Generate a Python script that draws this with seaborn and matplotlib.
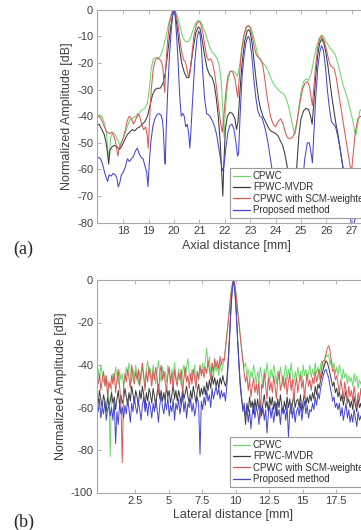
import numpy as np
import seaborn as sns
import matplotlib.pyplot as plt
from matplotlib.lines import Line2D

sns.set_style("white")
plt.rcParams['font.family'] = ['Liberation Sans', 'DejaVu Sans']
plt.rcParams['axes.unicode_minus'] = False

# ---- (a) axial profiles: (axial distance [mm], normalized amplitude [dB]) ----
cpwc_axial = [
    (16.95, -40.5), (17.05, -39.5), (17.15, -40), (17.25, -42.5), (17.33, -46), (17.40, -54),
    (17.44, -55), (17.50, -48), (17.58, -46), (17.68, -47), (17.78, -49), (17.86, -51),
    (17.95, -49.5), (18.05, -47), (18.15, -44), (18.25, -41.5), (18.35, -41), (18.45, -40),
    (18.55, -40.5), (18.65, -38.5), (18.75, -37.5), (18.85, -37), (18.95, -35), (19.02, -30),
    (19.10, -22), (19.18, -18.5), (19.28, -18), (19.38, -18.5), (19.48, -17), (19.58, -14),
    (19.68, -10), (19.78, -5.5), (19.88, -2), (19.96, -0.3), (20.00, 0), (20.06, -0.8),
    (20.15, -3), (20.25, -7), (20.35, -10.5), (20.45, -12), (20.55, -12), (20.65, -10.5),
    (20.75, -7.5), (20.85, -5), (20.95, -4), (21.02, -4.2), (21.10, -5.5), (21.20, -8),
    (21.30, -11), (21.40, -14), (21.50, -16), (21.60, -17), (21.70, -18.5), (21.78, -21),
    (21.85, -26), (21.92, -38), (21.97, -48), (22.02, -38), (22.10, -28), (22.20, -23.5),
    (22.30, -23), (22.40, -23.5), (22.50, -25), (22.58, -21), (22.68, -14), (22.78, -9),
    (22.88, -6.2), (22.95, -6), (23.02, -6.5), (23.10, -9), (23.20, -13), (23.30, -17),
    (23.40, -19), (23.50, -20), (23.60, -21), (23.70, -23), (23.80, -25.5), (23.90, -27.5),
    (24.00, -29), (24.10, -30), (24.20, -31), (24.30, -31.5), (24.40, -33), (24.50, -36),
    (24.60, -40), (24.70, -45), (24.76, -47), (24.82, -44), (24.90, -38), (25.00, -31),
    (25.10, -27), (25.20, -26), (25.30, -26.5), (25.40, -24), (25.50, -19), (25.60, -14.5),
    (25.70, -11), (25.80, -9.5), (25.88, -10), (25.96, -11.5), (26.05, -13), (26.15, -14.5),
    (26.25, -15.5), (26.35, -17), (26.45, -20), (26.55, -24), (26.65, -28), (26.75, -31),
    (26.85, -34), (26.95, -38), (27.05, -42), (27.12, -46), (27.17, -47), (27.24, -43),
    (27.32, -38), (27.42, -37), (27.55, -37), (27.70, -38), (27.85, -39), (28.00, -39.5),
]
mvdr_axial = [
    (16.95, -43.5), (17.05, -43), (17.15, -45), (17.25, -47), (17.32, -50), (17.38, -54),
    (17.42, -58), (17.47, -53), (17.55, -51.5), (17.65, -51), (17.75, -51.5), (17.85, -52.5),
    (17.95, -51), (18.05, -49), (18.15, -47), (18.25, -46), (18.35, -45), (18.45, -45.5),
    (18.55, -44.5), (18.65, -44), (18.75, -43), (18.85, -42), (18.95, -40), (19.05, -36),
    (19.15, -32), (19.25, -30), (19.35, -29.5), (19.45, -29.5), (19.55, -28), (19.65, -24),
    (19.75, -16), (19.85, -8), (19.93, -2.5), (20.00, 0), (20.06, -2.5), (20.14, -8),
    (20.22, -15), (20.30, -20), (20.40, -23.5), (20.50, -25.5), (20.58, -25.5), (20.66, -21),
    (20.76, -14), (20.86, -8.5), (20.95, -6.5), (21.02, -7), (21.10, -11), (21.20, -17),
    (21.30, -22), (21.40, -24.5), (21.50, -25.5), (21.58, -28), (21.66, -33), (21.74, -40),
    (21.82, -50), (21.88, -62), (21.92, -70), (21.96, -58), (22.02, -45), (22.10, -40),
    (22.20, -38.5), (22.30, -39), (22.40, -41), (22.46, -45), (22.52, -42), (22.60, -30),
    (22.68, -20), (22.78, -12), (22.88, -8), (22.94, -7.5), (23.00, -8.5), (23.08, -13),
    (23.16, -20), (23.24, -27), (23.32, -33), (23.40, -37), (23.50, -40), (23.60, -42),
    (23.70, -44), (23.80, -45.5), (23.90, -46), (24.00, -46.5), (24.10, -47.5), (24.20, -49.5),
    (24.28, -51), (24.36, -54), (24.44, -58), (24.52, -63), (24.60, -70), (24.68, -75),
    (24.76, -70), (24.84, -58), (24.92, -47), (25.00, -41), (25.10, -38), (25.20, -37),
    (25.30, -37.5), (25.38, -40), (25.44, -43), (25.50, -36), (25.58, -25), (25.66, -17),
    (25.74, -12.5), (25.82, -11), (25.90, -12.5), (25.98, -16), (26.06, -21), (26.14, -27),
    (26.22, -33), (26.30, -38), (26.38, -43), (26.46, -47), (26.54, -52), (26.62, -57),
    (26.70, -62), (26.80, -68), (26.90, -72), (27.00, -75), (27.20, -72), (27.40, -70),
    (27.60, -68), (28.00, -68),
]
scm_axial = [
    (16.95, -40.5), (17.05, -40), (17.15, -41.5), (17.25, -44), (17.35, -46), (17.45, -46.5),
    (17.55, -46), (17.65, -48), (17.72, -51), (17.78, -55), (17.84, -52), (17.92, -50),
    (18.00, -48), (18.08, -45), (18.16, -41.5), (18.24, -40), (18.32, -41), (18.40, -43),
    (18.48, -41.5), (18.56, -39), (18.64, -40), (18.72, -43), (18.80, -45), (18.88, -44),
    (18.94, -47), (18.98, -52), (19.03, -42), (19.10, -30), (19.18, -22), (19.26, -19),
    (19.34, -18), (19.42, -18.5), (19.50, -19.5), (19.56, -22), (19.60, -28), (19.63, -31),
    (19.67, -22), (19.74, -12), (19.82, -5), (19.92, -1), (20.00, 0), (20.08, -2),
    (20.16, -6), (20.24, -12), (20.32, -17), (20.38, -19), (20.44, -19.5), (20.50, -22),
    (20.56, -25), (20.62, -24), (20.70, -17), (20.78, -10), (20.88, -5.5), (20.96, -4.5),
    (21.04, -5), (21.12, -8), (21.20, -13), (21.28, -17.5), (21.36, -19), (21.44, -18.5),
    (21.52, -20), (21.60, -24), (21.68, -30), (21.76, -37), (21.84, -43), (21.90, -46),
    (21.96, -40), (22.04, -31), (22.12, -25), (22.22, -23), (22.32, -23.5), (22.40, -26),
    (22.46, -30), (22.51, -33), (22.56, -27), (22.64, -17), (22.74, -10), (22.84, -6.5),
    (22.93, -6), (23.00, -7), (23.08, -10), (23.16, -14), (23.24, -17), (23.32, -18),
    (23.40, -18.5), (23.48, -20), (23.56, -25), (23.64, -31), (23.72, -36), (23.80, -40),
    (23.90, -43), (24.00, -44), (24.10, -42), (24.20, -41), (24.30, -43), (24.38, -46),
    (24.46, -48), (24.56, -48.5), (24.66, -48), (24.76, -46), (24.86, -41), (24.96, -35),
    (25.06, -30), (25.16, -27.5), (25.26, -27), (25.34, -29), (25.40, -33), (25.45, -36),
    (25.50, -30), (25.58, -21), (25.66, -14), (25.74, -11), (25.82, -10), (25.90, -11.5),
    (25.98, -14), (26.06, -17.5), (26.14, -20.5), (26.22, -21.5), (26.30, -22), (26.38, -25),
    (26.46, -30), (26.56, -36), (26.66, -42), (26.76, -48), (26.86, -54), (26.94, -59),
    (27.00, -60), (27.06, -54), (27.14, -46), (27.24, -41), (27.34, -40), (27.46, -41),
    (27.60, -42), (27.80, -42), (28.00, -43),
]
proposed_axial = [
    (16.95, -55), (17.02, -55.5), (17.10, -56), (17.18, -58), (17.26, -61), (17.32, -63),
    (17.38, -64.5), (17.44, -62), (17.52, -62.5), (17.60, -61.5), (17.68, -62), (17.74, -63),
    (17.80, -66.5), (17.86, -65), (17.92, -62), (18.00, -61), (18.08, -59), (18.16, -56),
    (18.24, -57), (18.32, -56), (18.40, -55), (18.48, -53), (18.55, -52), (18.62, -54),
    (18.70, -55.5), (18.78, -56), (18.86, -59), (18.92, -61), (18.97, -66.5), (19.02, -58),
    (19.08, -50), (19.16, -44), (19.24, -41), (19.32, -39.5), (19.40, -39), (19.48, -39.5),
    (19.54, -41.5), (19.58, -46), (19.62, -55), (19.65, -58), (19.69, -45), (19.75, -30),
    (19.82, -17), (19.90, -6), (19.96, -1), (20.00, 0), (20.04, -2), (20.10, -10),
    (20.16, -20), (20.22, -32), (20.28, -40), (20.34, -39), (20.40, -40), (20.46, -44),
    (20.52, -43), (20.58, -47), (20.62, -52), (20.66, -46), (20.74, -32), (20.82, -19),
    (20.90, -11), (20.97, -8), (21.02, -9), (21.08, -15), (21.14, -25), (21.20, -33),
    (21.28, -39), (21.36, -39.5), (21.44, -40.5), (21.52, -42), (21.60, -44), (21.68, -47),
    (21.76, -52), (21.84, -57), (21.90, -60.5), (21.96, -59), (22.04, -52), (22.12, -46),
    (22.20, -43.5), (22.28, -43), (22.36, -45), (22.44, -50), (22.50, -55), (22.54, -54),
    (22.60, -40), (22.68, -25), (22.76, -17), (22.84, -12), (22.92, -10), (22.98, -11),
    (23.06, -17), (23.14, -26), (23.22, -33), (23.30, -38), (23.38, -40), (23.46, -40.5),
    (23.54, -43), (23.62, -46), (23.70, -50), (23.78, -55), (23.86, -60), (23.94, -66),
    (24.02, -72), (24.10, -74), (24.40, -75), (24.70, -75), (24.95, -72), (25.05, -66),
    (25.15, -56), (25.25, -50), (25.33, -50), (25.40, -54), (25.45, -57.5), (25.50, -48),
    (25.58, -33), (25.66, -22), (25.74, -16), (25.81, -13.5), (25.88, -15), (25.96, -21),
    (26.04, -30), (26.12, -37), (26.20, -42), (26.28, -43), (26.36, -44), (26.44, -47),
    (26.52, -51), (26.60, -56), (26.68, -61), (26.78, -68), (26.88, -75), (26.98, -80),
    (27.05, -82), (27.12, -79), (27.30, -75), (27.60, -74), (28.00, -74),
]

# ---- (b) lateral profiles, sampled every 0.1 mm from -0.35 mm ----
lateral_start, lateral_step = -0.35, 0.1
cpwc_lateral = [
    -45, -42, -47, -40, -44, -48, -45, -50, -47, -55,
    -83, -50, -44, -47, -41, -45, -49, -43, -47, -44,
    -50, -46, -41, -45, -39, -44, -48, -42, -46, -40,
    -45, -49, -43, -47, -41, -44, -50, -42, -38, -45,
    -42, -47, -40, -45, -49, -43, -38, -44, -48, -41,
    -46, -43, -48, -40, -44, -47, -42, -46, -39, -45,
    -48, -42, -45, -50, -43, -40, -46, -41, -37, -44,
    -47, -42, -45, -40, -48, -43, -46, -41, -44, -39,
    -43, -38, -32, -41, -36, -44, -40, -46, -39, -43,
    -40, -45, -39, -43, -41, -37.5, -32, -26, -19.5, -13,
    -7, -2.5, 0, -2.5, -7, -13, -19.5, -26, -32, -37.5,
    -41, -39, -45, -42, -48, -43, -46, -40, -44, -49,
    -43, -47, -41, -45, -50, -42, -46, -39, -44, -48,
    -42, -46, -40, -44, -49, -43, -47, -41, -45, -50,
    -44, -40, -47, -42, -46, -39, -45, -49, -43, -47,
    -41, -46, -43, -48, -40, -45, -42, -47, -44, -40,
    -46, -42, -45, -39, -44, -41, -47, -40, -38, -42,
    -37, -35, -36, -35, -40, -37, -42, -39, -44, -41,
    -45, -40, -43, -47, -42, -46, -44, -49, -45, -48,
    -46, -50, -44, -48, -45, -51, -47, -49, -46, -50,
]
mvdr_lateral = [
    -55, -58, -52, -56, -60, -54, -57, -62, -55, -59,
    -57, -53, -58, -55, -61, -56, -52, -59, -54, -58,
    -56, -51, -55, -59, -53, -57, -50, -54, -58, -52,
    -55, -59, -52, -56, -50, -54, -60, -53, -57, -51,
    -54, -58, -51, -55, -60, -53, -49, -56, -52, -57,
    -53, -57, -50, -55, -52, -58, -54, -49, -56, -52,
    -57, -52, -55, -59, -51, -56, -53, -50, -55, -58,
    -52, -56, -50, -54, -58, -52, -49, -55, -51, -54,
    -50, -54, -48, -52, -47, -51, -45, -49, -46, -50,
    -47, -51, -46, -49, -45, -48, -50, -47, -38, -27,
    -14, -4.5, 0, -4.5, -14, -27, -38, -48, -55, -60,
    -60, -68, -58, -62, -55, -60, -57, -63, -56, -61,
    -56, -61, -57, -63, -58, -54, -60, -57, -62, -55,
    -59, -55, -61, -57, -64, -56, -60, -54, -59, -62,
    -57, -61, -55, -60, -56, -63, -58, -54, -60, -57,
    -56, -60, -54, -62, -57, -53, -59, -55, -58, -54,
    -57, -53, -56, -50, -54, -49, -51, -47, -45, -42,
    -40, -38, -39, -41, -44, -47, -50, -48, -53, -51,
    -55, -52, -57, -54, -59, -55, -52, -58, -56, -60,
    -57, -61, -55, -59, -62, -56, -60, -58, -63, -59,
]
scm_lateral = [
    -46, -49, -44, -52, -47, -43, -50, -45, -55, -48,
    -51, -45, -49, -44, -53, -47, -42, -50, -58, -86,
    -49, -44, -48, -42, -46, -51, -40, -45, -49, -43,
    -47, -42, -50, -44, -39, -46, -52, -43, -48, -41,
    -45, -50, -43, -47, -41, -46, -54, -44, -40, -47,
    -43, -48, -52, -45, -41, -49, -44, -51, -42, -47,
    -50, -44, -47, -42, -53, -46, -41, -48, -45, -51,
    -44, -49, -42, -46, -51, -43, -47, -40, -45, -42,
    -46, -41, -44, -38, -42, -47, -39, -43, -37, -41,
    -38, -42, -36, -40, -37, -38, -32.5, -26.5, -20, -13.5,
    -7, -2.5, 0, -2.5, -7.5, -13.5, -20, -26.5, -32.5, -38,
    -44, -48, -45, -52, -47, -55, -50, -46, -53, -49,
    -54, -47, -65, -49, -51, -44, -50, -56, -46, -52,
    -48, -53, -45, -50, -56, -47, -43, -52, -49, -45,
    -51, -46, -54, -48, -44, -52, -47, -57, -50, -46,
    -53, -48, -45, -51, -47, -55, -49, -44, -50, -47,
    -52, -46, -49, -43, -48, -45, -42, -47, -40, -38,
    -38, -35, -32, -31, -33, -38, -43, -42, -47, -45,
    -49, -53, -47, -51, -56, -48, -52, -58, -50, -55,
    -52, -57, -50, -55, -60, -53, -57, -51, -59, -54,
]
proposed_lateral = [
    -58, -62, -56, -65, -60, -63, -57, -66, -61, -59,
    -64, -60, -66, -57, -77, -62, -68, -58, -63, -60,
    -65, -59, -63, -56, -61, -67, -58, -62, -55, -60,
    -63, -57, -61, -66, -59, -55, -62, -58, -64, -57,
    -60, -65, -58, -62, -56, -61, -67, -59, -54, -60,
    -63, -57, -61, -55, -64, -59, -62, -56, -66, -58,
    -61, -56, -63, -59, -54, -62, -57, -65, -58, -60,
    -56, -62, -58, -64, -60, -55, -59, -82, -57, -61,
    -55, -59, -52, -57, -54, -60, -51, -56, -53, -50,
    -54, -51, -56, -52, -55, -53, -57, -50, -40, -28,
    -15, -5, 0, -5, -15, -28, -40, -50, -56, -62,
    -58, -64, -60, -67, -61, -70, -63, -58, -65, -60,
    -62, -68, -59, -64, -60, -66, -61, -72, -63, -59,
    -65, -60, -67, -62, -58, -64, -61, -68, -60, -63,
    -61, -66, -59, -74, -62, -58, -65, -60, -67, -62,
    -60, -64, -58, -66, -61, -57, -63, -59, -65, -61,
    -62, -58, -61, -55, -59, -53, -56, -51, -48, -45,
    -43, -42, -44, -46, -50, -53, -57, -55, -60, -58,
    -61, -58, -64, -60, -66, -62, -58, -65, -61, -67,
    -63, -67, -61, -65, -69, -62, -66, -64, -68, -63,
]

methods = ["CPWC", "FPWC-MVDR", "CPWC with SCM-weighted", "Proposed method"]
colors = ["#6cd86c", "#3a3a3a", "#d85858", "#4646cc"]
axial_sets = [cpwc_axial, mvdr_axial, scm_axial, proposed_axial]
lateral_sets = [cpwc_lateral, mvdr_lateral, scm_lateral, proposed_lateral]

axial_ticks = [18, 19, 20, 21, 22, 23, 24, 25, 26, 27]
axial_yticks = [-80, -70, -60, -50, -40, -30, -20, -10, 0]
lateral_ticks = [2.5, 5, 7.5, 10, 12.5, 15, 17.5]
lateral_ticklabels = ["2.5", "5", "7.5", "10", "12.5", "15", "17.5"]
lateral_yticks = [-100, -80, -60, -40, -20, 0]

W, H = 361, 530
fig = plt.figure(figsize=(W / 100, H / 100), dpi=100)
ax1 = fig.add_axes([96.7 / W, 1 - 222.7 / H, 280.4 / W, 213.0 / H])
ax2 = fig.add_axes([96.7 / W, 1 - 492.5 / H, 272.8 / W, 212.5 / H])

for data, c in zip(axial_sets, colors):
    arr = np.array(data)
    sns.lineplot(x=arr[:, 0], y=arr[:, 1], ax=ax1, color=c, lw=0.75,
                 estimator=None, sort=False)

for vals, c in zip(lateral_sets, colors):
    xs = np.round(lateral_start + lateral_step * np.arange(len(vals)), 2)
    sns.lineplot(x=xs, y=vals, ax=ax2, color=c, lw=0.7,
                 estimator=None, sort=False)

ax1.set_xlim(16.95, 28)
ax1.set_ylim(-80, 0)
ax1.set_xticks(axial_ticks)
ax1.set_yticks(axial_yticks)
ax1.set_xlabel("Axial distance [mm]")

ax2.set_xlim(-0.36, 20)
ax2.set_ylim(-100, 0)
ax2.set_xticks(lateral_ticks)
ax2.set_xticklabels(lateral_ticklabels)
ax2.set_yticks(lateral_yticks)
ax2.set_xlabel("Lateral distance [mm]")

handles = [Line2D([], [], color=c, lw=0.9) for c in colors]

for ax, top in [(ax1, 168), (ax2, 437)]:
    ax.set_ylabel("Normalized Amplitude [dB]", fontsize=9, color="#404040", labelpad=3)
    ax.xaxis.label.set_size(9)
    ax.xaxis.label.set_color("#404040")
    ax.xaxis.labelpad = 2.5
    for s in ax.spines.values():
        s.set_color("#a8a8a8")
        s.set_linewidth(0.8)
    ax.tick_params(direction="in", length=3, width=0.6, color="#a8a8a8",
                   labelsize=8, labelcolor="#404040", pad=2.5,
                   top=True, left=True, bottom=True, right=False)
    leg = ax.legend(handles, methods, loc="upper left",
                    bbox_to_anchor=(230 / W, 1 - top / H),
                    bbox_transform=fig.transFigure, fontsize=7, frameon=True,
                    fancybox=False, framealpha=1, edgecolor="#9a9a9a",
                    borderaxespad=0, borderpad=0.3, labelspacing=0.15,
                    handlelength=1.8, handletextpad=0.25)
    leg.get_frame().set_linewidth(0.8)
    for t in leg.get_texts():
        t.set_color("#303030")

fig.text(13 / W, 1 - 249 / H, "(a)", family="Liberation Serif", fontsize=13, va="center")
fig.text(13 / W, 1 - 522 / H, "(b)", family="Liberation Serif", fontsize=13, va="center")

fig.savefig("out.png", dpi=100)
